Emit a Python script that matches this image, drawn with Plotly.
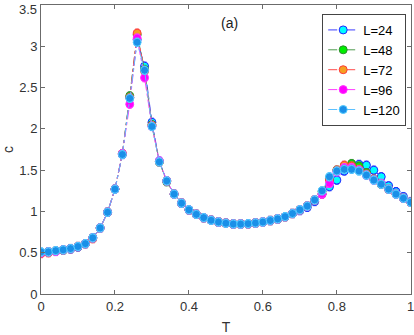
import plotly.graph_objects as go

# temperaturas (paso 0.02)
T = [0.00, 0.02, 0.04, 0.06, 0.08, 0.10, 0.12, 0.14, 0.16, 0.18,
     0.20, 0.22, 0.24, 0.26, 0.28, 0.30, 0.32, 0.34, 0.36, 0.38,
     0.40, 0.42, 0.44, 0.46, 0.48, 0.50, 0.52, 0.54, 0.56, 0.58,
     0.60, 0.62, 0.64, 0.66, 0.68, 0.70, 0.72, 0.74, 0.76, 0.78,
     0.80, 0.82, 0.84, 0.86, 0.88, 0.90, 0.92, 0.94, 0.96, 0.98, 1.00]

c_L24 = [0.50, 0.51, 0.52, 0.535, 0.545, 0.57, 0.61, 0.68, 0.80, 0.99,
         1.27, 1.69, 2.38, 3.08, 2.76, 2.08, 1.61, 1.37, 1.21, 1.10,
         1.02, 0.965, 0.925, 0.893, 0.872, 0.857, 0.848, 0.847, 0.852, 0.860,
         0.872, 0.89, 0.91, 0.937, 0.975, 1.01, 1.05, 1.12, 1.21, 1.30,
         1.38, 1.49, 1.55, 1.57, 1.56, 1.50, 1.42, 1.31, 1.24, 1.18, 1.12]

c_L48 = [0.50, 0.51, 0.52, 0.53, 0.55, 0.575, 0.61, 0.68, 0.80, 0.99,
         1.27, 1.70, 2.40, 3.14, 2.72, 2.05, 1.60, 1.36, 1.21, 1.10,
         1.02, 0.965, 0.925, 0.893, 0.872, 0.857, 0.848, 0.847, 0.852, 0.860,
         0.872, 0.89, 0.91, 0.937, 0.975, 1.02, 1.065, 1.14, 1.24, 1.40,
         1.50, 1.55, 1.58, 1.55, 1.47, 1.39, 1.33, 1.27, 1.21, 1.16, 1.11]

c_L72 = [0.49, 0.50, 0.52, 0.535, 0.55, 0.575, 0.61, 0.67, 0.80, 0.99,
         1.27, 1.70, 2.38, 3.16, 2.70, 2.04, 1.60, 1.37, 1.21, 1.10,
         1.02, 0.965, 0.925, 0.893, 0.872, 0.857, 0.848, 0.847, 0.852, 0.860,
         0.872, 0.89, 0.91, 0.937, 0.975, 1.02, 1.065, 1.14, 1.21, 1.38,
         1.50, 1.56, 1.55, 1.51, 1.45, 1.39, 1.33, 1.27, 1.21, 1.16, 1.11]

c_L96 = [0.50, 0.51, 0.515, 0.535, 0.55, 0.575, 0.61, 0.68, 0.80, 0.99,
         1.27, 1.70, 2.30, 3.10, 2.62, 2.03, 1.61, 1.37, 1.21, 1.10,
         1.02, 0.965, 0.925, 0.893, 0.872, 0.857, 0.848, 0.847, 0.852, 0.860,
         0.872, 0.89, 0.91, 0.937, 0.975, 1.02, 1.065, 1.14, 1.21, 1.34,
         1.48, 1.53, 1.53, 1.50, 1.44, 1.38, 1.34, 1.27, 1.21, 1.16, 1.11]

c_L120 = [0.51, 0.51, 0.525, 0.535, 0.55, 0.575, 0.61, 0.68, 0.80, 0.99,
          1.27, 1.69, 2.37, 3.05, 2.71, 2.03, 1.60, 1.37, 1.21, 1.10,
          1.02, 0.965, 0.925, 0.893, 0.872, 0.857, 0.848, 0.847, 0.852, 0.860,
          0.872, 0.89, 0.91, 0.937, 0.975, 1.02, 1.065, 1.14, 1.25, 1.42,
          1.49, 1.51, 1.51, 1.49, 1.44, 1.38, 1.33, 1.27, 1.21, 1.16, 1.11]

labels = ['L=24', 'L=48', 'L=72', 'L=96', 'L=120']
series = [c_L24, c_L48, c_L72, c_L96, c_L120]
ticks_y = [0, 0.5, 1, 1.5, 2, 2.5, 3, 3.5]
ticks_x = [0, 0.2, 0.4, 0.6, 0.8, 1]
# (color linea, relleno marcador, borde marcador)
estilos = [('#3b3bff', '#00ffff', '#2222ff'),
           ('#4f9a4f', '#00ee00', '#2e8b2e'),
           ('#ff4a4a', '#f5a020', '#ff3b3b'),
           ('#ff3cff', '#ff00ff', '#ff33ff'),
           ('#5cc0ff', '#1a8fe8', '#55ccff')]

fuente = 'Liberation Sans, Arial'

fig = go.Figure()

for nombre, valores, (col_linea, col_cara, col_borde) in zip(labels, series, estilos):
    fig.add_trace(go.Scatter(
        x=T, y=valores, name=nombre, mode='lines+markers',
        line=dict(color=col_linea, width=1, dash='dashdot'),
        marker=dict(size=8, color=col_cara, line=dict(color=col_borde, width=1)),
        error_y=dict(type='constant', value=0.05, color=col_linea, thickness=1, width=2)
    ))

eje = dict(showline=True, linecolor='#6b6b6b', linewidth=1, mirror='ticks',
           ticks='inside', ticklen=4, tickcolor='#6b6b6b', showgrid=False, zeroline=False,
           tickfont=dict(family=fuente, size=13, color='#333'))

# plotly oculta las etiquetas del borde: se ponen como anotaciones
txt_x = ['0', '0.2', '0.4', '0.6', '0.8', '']
txt_y = ['0', '0.5', '1', '1.5', '2', '2.5', '3', '']

fig.update_layout(
    width=414, height=335,
    margin=dict(l=40, r=2, t=5, b=41),
    plot_bgcolor='white', paper_bgcolor='white',
    xaxis=dict(range=[0, 1.0005], tickvals=ticks_x, ticktext=txt_x,
               title=dict(text='T', standoff=9, font=dict(family=fuente, size=14, color='#333')),
               **eje),
    yaxis=dict(range=[0, 3.501], tickvals=ticks_y, ticktext=txt_y,
               title=dict(text='c', standoff=8, font=dict(family=fuente, size=14, color='#333')),
               **eje),
    legend=dict(x=0.76, y=0.969, xanchor='left', yanchor='top',
                bgcolor='white', bordercolor='#444', borderwidth=1,
                font=dict(family=fuente, size=13, color='black'),
                tracegroupgap=0, itemwidth=30),
    showlegend=True,
    annotations=[
        dict(x=0.51, y=3.28, xref='x', yref='y', text='(a)', showarrow=False,
             font=dict(family=fuente, size=14, color='#222')),
        dict(x=0, y=ticks_y[-1], xref='paper', yref='y', text='3.5', showarrow=False,
             xanchor='right', yanchor='top', xshift=-2, yshift=5,
             font=dict(family=fuente, size=13, color='#333')),
        dict(x=ticks_x[-1], y=0, xref='x', yref='paper', text='1', showarrow=False,
             xanchor='center', yanchor='top', yshift=-3,
             font=dict(family=fuente, size=13, color='#333')),
    ]
)

# quitar el margen del body para que la figura quede en (0,0)
fig.write_html("out.html", config={'displayModeBar': False},
               post_script="document.body.style.margin='0';")
